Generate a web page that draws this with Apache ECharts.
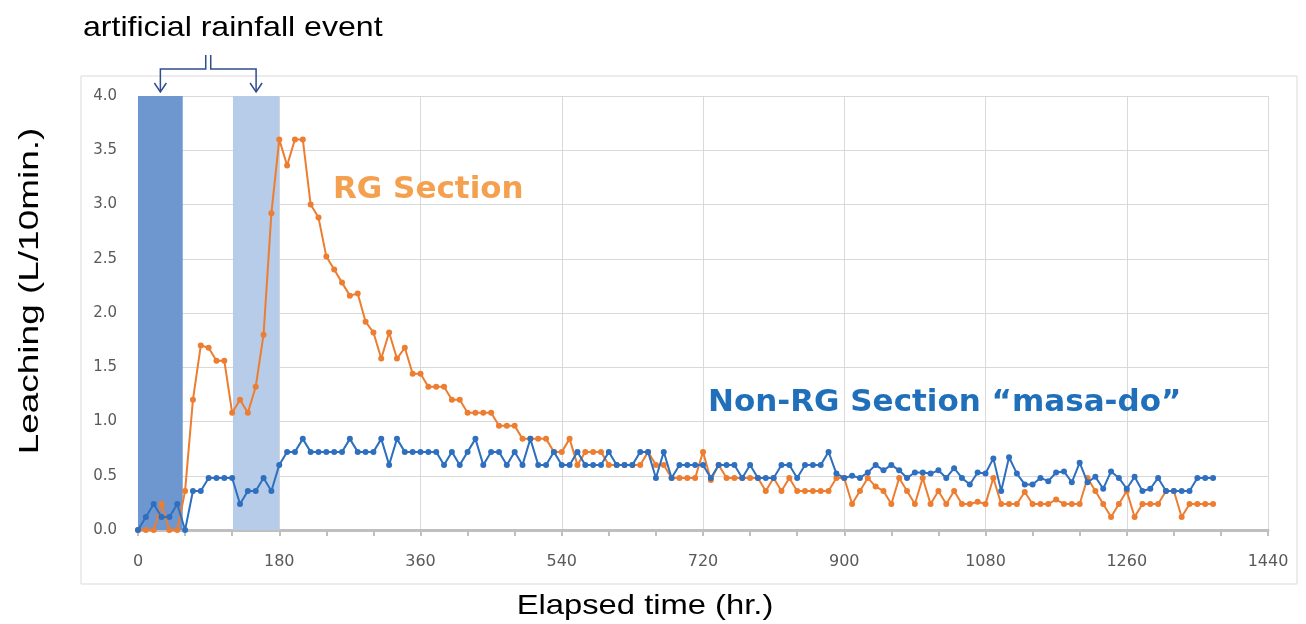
<!DOCTYPE html>
<html><head><meta charset="utf-8">
<script src="https://cdn.jsdelivr.net/npm/echarts/dist/echarts.min.js"></script>
<style>html,body{margin:0;padding:0;background:#fff}#c{width:1306px;height:624px}</style>
</head><body><div id="c"></div>
<script>
// Elapsed time (hr.)
const hours = [0,10,20,30,40,50,60,70,80,90,100,110,120,130,140,150,160,170,180,190,200,210,220,230,240,250,260,270,280,290,300,310,320,330,340,350,360,370,380,390,400,410,420,430,440,450,460,470,480,490,500,510,520,530,540,550,560,570,580,590,600,610,620,630,640,650,660,670,680,690,700,710,720,730,740,750,760,770,780,790,800,810,820,830,840,850,860,870,880,890,900,910,920,930,940,950,960,970,980,990,1000,1010,1020,1030,1040,1050,1060,1070,1080,1090,1100,1110,1120,1130,1140,1150,1160,1170,1180,1190,1200,1210,1220,1230,1240,1250,1260,1270,1280,1290,1300,1310,1320,1330,1340,1350,1360,1370];
// Leaching (L/10min.) - RG Section
const rgSection = [0,0,0,0.24,0,0,0.36,1.2,1.7,1.68,1.56,1.56,1.08,1.2,1.08,1.32,1.8,2.92,3.6,3.36,3.6,3.6,3.0,2.88,2.52,2.4,2.28,2.16,2.18,1.92,1.82,1.58,1.82,1.58,1.68,1.44,1.44,1.32,1.32,1.32,1.2,1.2,1.08,1.08,1.08,1.08,0.96,0.96,0.96,0.84,0.84,0.84,0.84,0.72,0.72,0.84,0.6,0.72,0.72,0.72,0.6,0.6,0.6,0.6,0.6,0.72,0.6,0.6,0.48,0.48,0.48,0.48,0.72,0.46,0.6,0.48,0.48,0.48,0.48,0.48,0.36,0.48,0.36,0.48,0.36,0.36,0.36,0.36,0.36,0.48,0.48,0.24,0.36,0.48,0.4,0.36,0.24,0.48,0.36,0.24,0.48,0.24,0.36,0.24,0.36,0.24,0.24,0.26,0.24,0.48,0.24,0.24,0.24,0.35,0.24,0.24,0.24,0.28,0.24,0.24,0.24,0.48,0.36,0.24,0.12,0.24,0.36,0.12,0.24,0.24,0.24,0.36,0.36,0.12,0.24,0.24,0.24,0.24];
// Leaching (L/10min.) - Non-RG Section "masa-do"
const nonRgSection = [0,0.12,0.24,0.12,0.12,0.24,0,0.36,0.36,0.48,0.48,0.48,0.48,0.24,0.36,0.36,0.48,0.36,0.6,0.72,0.72,0.84,0.72,0.72,0.72,0.72,0.72,0.84,0.72,0.72,0.72,0.84,0.6,0.84,0.72,0.72,0.72,0.72,0.72,0.6,0.72,0.6,0.72,0.84,0.6,0.72,0.72,0.6,0.72,0.6,0.84,0.6,0.6,0.72,0.6,0.6,0.72,0.6,0.6,0.6,0.72,0.6,0.6,0.6,0.72,0.72,0.48,0.72,0.48,0.6,0.6,0.6,0.6,0.48,0.6,0.6,0.6,0.48,0.6,0.48,0.48,0.48,0.6,0.6,0.48,0.6,0.6,0.6,0.72,0.52,0.48,0.5,0.48,0.53,0.6,0.55,0.6,0.55,0.48,0.53,0.53,0.52,0.55,0.48,0.57,0.48,0.42,0.53,0.52,0.66,0.36,0.67,0.52,0.42,0.42,0.48,0.45,0.53,0.54,0.44,0.62,0.44,0.49,0.38,0.54,0.48,0.38,0.49,0.36,0.38,0.48,0.36,0.36,0.36,0.36,0.48,0.48,0.48];
// artificial rainfall events [start, end] in hr.
const rainEvents = [[0,57],[121,180]];
const rainColors = ['#6e97d0','#b6cce9'];
const xTicks = {min:0, max:1440, interval:180};
const yTicks = {min:0, max:4, interval:0.5};

const chart = echarts.init(document.getElementById('c'));
const pairs = arr => hours.map((h,i)=>[h, arr[i]]);
const option = {
  animation:false,
  grid:{left:138,right:38,top:96,bottom:94},
  xAxis:{type:'value',min:xTicks.min,max:xTicks.max,interval:xTicks.interval,
    axisLine:{show:true,lineStyle:{color:'#bfbfbf',width:3}},
    axisTick:{show:true,length:6,lineStyle:{color:'#bfbfbf',width:2}},
    minorTick:{show:true,splitNumber:3,length:6,lineStyle:{color:'#bfbfbf',width:2}},
    splitLine:{show:true,lineStyle:{color:'#d9d9d9',width:1}},
    axisLabel:{color:'#595959',fontFamily:'DejaVu Sans',fontSize:16,margin:24,formatter:v=>String(v)}
  },
  yAxis:{type:'value',min:yTicks.min,max:yTicks.max,interval:yTicks.interval,
    axisLine:{show:false},axisTick:{show:false},
    splitLine:{show:true,lineStyle:{color:'#d9d9d9',width:1}},
    axisLabel:{color:'#595959',fontFamily:'DejaVu Sans',fontSize:15,margin:21,formatter:v=>v.toFixed(1)}
  },
  series:[
    {type:'line',name:'RG Section',data:pairs(rgSection),symbol:'circle',symbolSize:6,
      lineStyle:{color:'#ed7d31',width:2},itemStyle:{color:'#ed7d31'},z:3,
      markArea:{silent:true,data:rainEvents.map((e,i)=>[{xAxis:e[0],yAxis:yTicks.min,itemStyle:{color:rainColors[i]}},{xAxis:e[1],yAxis:yTicks.max}])}
    },
    {type:'line',name:'Non-RG Section',data:pairs(nonRgSection),symbol:'circle',symbolSize:6,
      lineStyle:{color:'#2e6fbf',width:2},itemStyle:{color:'#2e6fbf'},z:4}
  ]
};
chart.setOption(option);

// annotations
const c1 = chart.convertToPixel({gridIndex:0},[(rainEvents[0][0]+rainEvents[0][1])/2, yTicks.max]);
const c2 = chart.convertToPixel({gridIndex:0},[(rainEvents[1][0]+rainEvents[1][1])/2, yTicks.max]);
const mid = (c1[0]+c2[0])/2;
const navy = '#2f4d8f';
const yH = 69, yTop = 55, yTip = c1[1]-4;
chart.setOption({graphic:[
  {type:'rect',shape:{x:81,y:76,width:1216,height:508},style:{fill:'none',stroke:'#d9d9d9',lineWidth:1},z:-1},
  {type:'text',x:83,y:28,style:{text:'artificial rainfall event',font:'28px "Liberation Sans"',fill:'#000',verticalAlign:'middle'},scaleX:1.146},
  {type:'polyline',shape:{points:[[mid-2.5,yTop],[mid-2.5,yH],[c1[0],yH],[c1[0],yTip]]},style:{stroke:navy,lineWidth:1.5,fill:null}},
  {type:'polyline',shape:{points:[[mid+2.5,yTop],[mid+2.5,yH],[c2[0],yH],[c2[0],yTip]]},style:{stroke:navy,lineWidth:1.5,fill:null}},
  {type:'polyline',shape:{points:[[c1[0]-6,yTip-9],[c1[0],yTip],[c1[0]+6,yTip-9]]},style:{stroke:navy,lineWidth:1.5,fill:null}},
  {type:'polyline',shape:{points:[[c2[0]-6,yTip-9],[c2[0],yTip],[c2[0]+6,yTip-9]]},style:{stroke:navy,lineWidth:1.5,fill:null}},
  {type:'text',x:333,y:190,style:{text:'RG Section',font:'bold 31px "DejaVu Sans"',fill:'#f4a04e',verticalAlign:'middle'}},
  {type:'text',x:708,y:403,style:{text:'Non-RG Section \u201cmasa-do\u201d',font:'bold 31px "DejaVu Sans"',fill:'#1f6fba',verticalAlign:'middle'}},
  {type:'text',x:645,y:606,style:{text:'Elapsed time (hr.)',font:'28px "Liberation Sans"',fill:'#000',align:'center',verticalAlign:'middle'},scaleX:1.17},
  {type:'text',x:30,y:291,rotation:Math.PI/2,style:{text:'Leaching (L/10min.)',font:'28px "Liberation Sans"',fill:'#000',align:'center',verticalAlign:'middle'},scaleX:1.32}
]});
</script></body></html>
